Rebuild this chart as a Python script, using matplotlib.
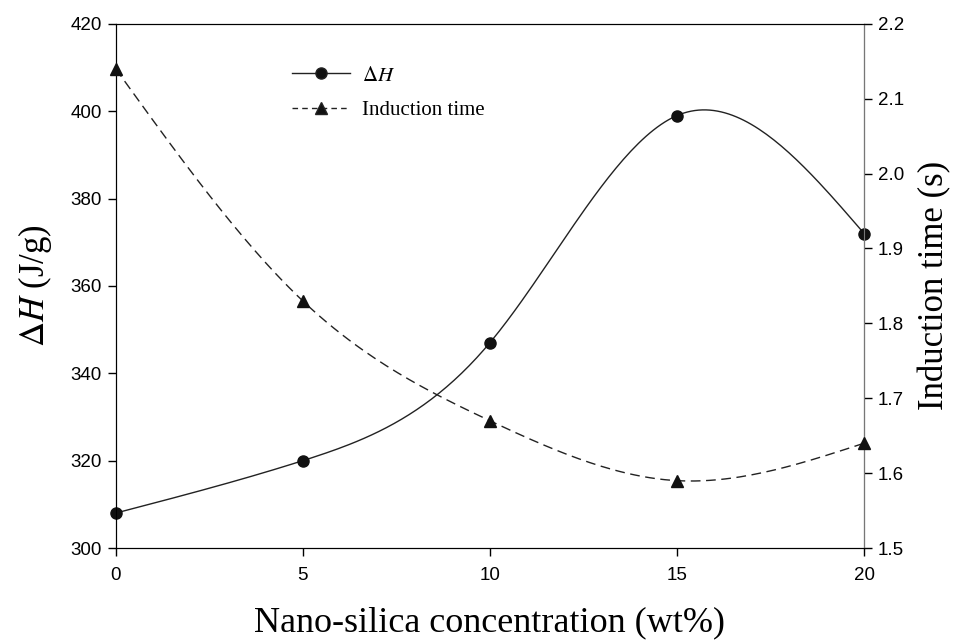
import numpy as np
import matplotlib.pyplot as plt
from matplotlib.lines import Line2D

plt.rcParams['mathtext.fontset'] = 'stix'

conc = [0, 5, 10, 15, 20]
delta_h = [308, 320, 347, 399, 372]
induction = [2.14, 1.83, 1.67, 1.59, 1.64]


def natural_spline(x, y, n=200):
    # plain natural cubic spline, only used to draw the smooth line through the points
    x = np.asarray(x, float)
    y = np.asarray(y, float)
    k = len(x)
    h = np.diff(x)
    A = np.zeros((k, k))
    b = np.zeros(k)
    A[0, 0] = A[-1, -1] = 1
    for i in range(1, k - 1):
        A[i, i - 1] = h[i - 1]
        A[i, i] = 2 * (h[i - 1] + h[i])
        A[i, i + 1] = h[i]
        b[i] = 6 * ((y[i + 1] - y[i]) / h[i] - (y[i] - y[i - 1]) / h[i - 1])
    M = np.linalg.solve(A, b)
    xs = np.linspace(x[0], x[-1], n)
    idx = np.clip(np.searchsorted(x, xs) - 1, 0, k - 2)
    x0, x1 = x[idx], x[idx + 1]
    hh = x1 - x0
    t0, t1 = x1 - xs, xs - x0
    ys = (M[idx] * t0**3 + M[idx + 1] * t1**3) / (6 * hh) \
        + (y[idx] / hh - M[idx] * hh / 6) * t0 \
        + (y[idx + 1] / hh - M[idx + 1] * hh / 6) * t1
    return xs, ys


fig = plt.figure(figsize=(9.72, 6.44), dpi=100)
ax = fig.add_axes([0.119, 0.149, 0.770, 0.814])
ax2 = ax.twinx()

xs, ys = natural_spline(conc, delta_h)
ax.plot(xs, ys, color='#222222', lw=1.0)
ax.plot(conc, delta_h, 'o', color='#111111', ms=8, clip_on=False, zorder=5)

xs2, ys2 = natural_spline(conc, induction)
ax2.plot(xs2, ys2, color='#222222', lw=1.0, dashes=(7, 4))
ax2.plot(conc, induction, '^', color='#111111', ms=8, clip_on=False, zorder=5)

ax.set_xlim(0, 20)
ax.set_ylim(300, 420)
ax2.set_ylim(1.5, 2.2)
ax.set_xticks([0, 5, 10, 15, 20])
ax.set_yticks(np.arange(300, 421, 20))
ax2.set_yticks(np.round(np.arange(1.5, 2.21, 0.1), 1))
ax2.set_yticklabels([f"{v:.1f}" for v in np.arange(1.5, 2.21, 0.1)])

for a in (ax, ax2):
    a.tick_params(direction='out', length=6, width=1, labelsize=13.5, pad=4)
    for lab in a.get_xticklabels() + a.get_yticklabels():
        lab.set_fontfamily('Liberation Sans')
ax.tick_params(axis='x', pad=8)
ax2.spines['right'].set_color('#777777')

ax.set_xlabel('Nano-silica concentration (wt%)', family='Liberation Serif',
              fontsize=26, labelpad=16)
ax.set_ylabel(r'$\Delta H$ (J/g)', family='Liberation Serif', fontsize=25, labelpad=12)
ax2.set_ylabel('Induction time (s)', family='Liberation Serif', fontsize=25, labelpad=10)

handles = [
    Line2D([], [], color='#222222', lw=1.0, marker='o', ms=8, markerfacecolor='#111111'),
    Line2D([], [], color='#222222', lw=1.0, dashes=(4, 3), marker='^', ms=8,
           markerfacecolor='#111111'),
]
ax.legend(handles, [r'$\Delta H$', 'Induction time'], loc='upper left',
          bbox_to_anchor=(0.21, 0.955), frameon=False,
          prop={'family': 'Liberation Serif', 'size': 15}, handlelength=2.8,
          handletextpad=0.6, labelspacing=0.7)

fig.savefig('out.png', dpi=100)
